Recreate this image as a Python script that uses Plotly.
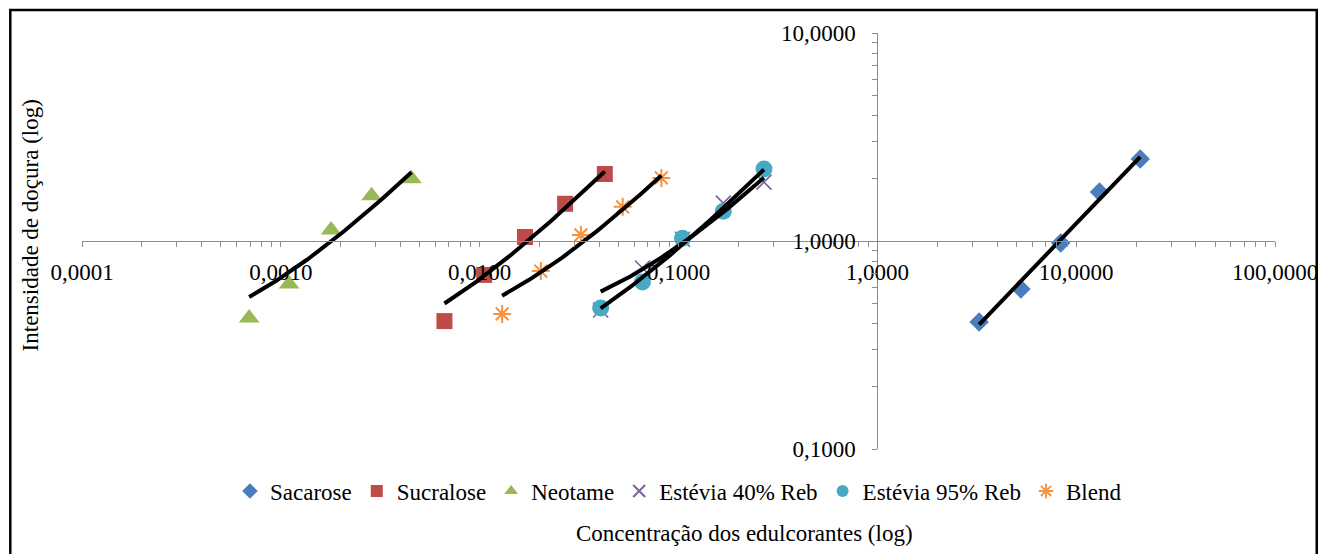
import numpy as np
import plotly.graph_objects as go

# ---- data ----
sacarose_x = [3.25, 5.27, 8.36, 13.1, 21.0]
sacarose_y = [0.408, 0.588, 0.978, 1.72, 2.48]

sucralose_x = [0.00665, 0.01054, 0.0169, 0.0269, 0.0426]
sucralose_y = [0.412, 0.687, 1.045, 1.51, 2.10]

neotame_x = [0.000693, 0.0011, 0.00179, 0.00286, 0.00454]
neotame_y = [0.426, 0.621, 1.13, 1.65, 1.99]

estevia_x = [0.0406, 0.0659, 0.1047, 0.168, 0.269]
estevia40_y = [0.466, 0.742, 1.02, 1.52, 1.92]
estevia95_y = [0.476, 0.635, 1.03, 1.39, 2.22]

blend_x = [0.01297, 0.0203, 0.0323, 0.0524, 0.082]
blend_y = [0.446, 0.717, 1.07, 1.46, 2.01]

x_tick_vals = [0.0001, 0.001, 0.01, 0.1, 1, 10, 100]
x_tick_text = ["0,0001", "0,0010", "0,0100", "0,1000", "1,0000", "10,0000", "100,0000"]
y_tick_vals = [0.1, 1, 10]
y_tick_text = ["0,1000", "1,0000", "10,0000"]

x_title = "Concentração dos edulcorantes (log)"
y_title = "Intensidade de doçura (log)"

FONT = "Liberation Serif, Times New Roman, serif"
GRID = "#8c8c8c"

def minor_vals(lo_exp, hi_exp):
    vals = []
    for e in range(lo_exp, hi_exp):
        for m in range(1, 10):
            vals.append(m * 10 ** e)
    vals.append(10 ** hi_exp)
    return vals

x_minor = minor_vals(-4, 2)
y_minor = minor_vals(-1, 1)

series = [
    ("Sacarose", sacarose_x, sacarose_y, dict(symbol="diamond", size=15, color="#4A7EBB")),
    ("Sucralose", sucralose_x, sucralose_y, dict(symbol="square", size=16, color="#BE4B48")),
    ("Neotame", neotame_x, neotame_y, dict(symbol="triangle-up", size=18, color="#98B954")),
    ("Estévia 40% Reb", estevia_x, estevia40_y,
     dict(symbol="x-thin-open", size=15, color="#7D60A0", line=dict(color="#7D60A0", width=1.6))),
    ("Estévia 95% Reb", estevia_x, estevia95_y, dict(symbol="circle", size=17, color="#46AAC5")),
    ("Blend", blend_x, blend_y,
     dict(symbol="asterisk-open", size=15, color="#F69240", line=dict(color="#F69240", width=2))),
]

fig = go.Figure()
for name, xs, ys, mk in series:
    fig.add_trace(go.Scatter(x=xs, y=ys, mode="markers", name=name, marker=mk))

# linear trendlines (least squares y = a + b x), drawn on log axes
for name, xs, ys, mk in series:
    b, a = np.polyfit(np.array(xs), np.array(ys), 1)
    xx = np.logspace(np.log10(min(xs)), np.log10(max(xs)), 60)
    fig.add_trace(go.Scatter(x=xx, y=a + b * xx, mode="lines", showlegend=False,
                             line=dict(color="black", width=4), hoverinfo="skip"))

fig.update_layout(
    width=1330, height=554,
    margin=dict(l=82, r=50, t=33, b=105),
    paper_bgcolor="white", plot_bgcolor="white",
    font=dict(family=FONT, size=23, color="black"),
    showlegend=True,
    legend=dict(orientation="h", x=0.5, xanchor="center", y=-0.101, yanchor="middle",
                itemsizing="constant",
                font=dict(family=FONT, size=23, color="black"), bgcolor="rgba(0,0,0,0)"),
    xaxis=dict(type="log", range=[-4, 2], domain=[0, 1], anchor="free", position=0.5,
               tickmode="array", tickvals=x_tick_vals, ticktext=x_tick_text,
               ticks="outside", ticklen=5, tickcolor=GRID, tickwidth=1,
               minor=dict(tickmode="array", tickvals=x_minor, ticks="outside", ticklen=5,
                          tickcolor=GRID, showgrid=False),
               showline=True, linecolor=GRID, linewidth=1, showgrid=False, zeroline=False,
               tickfont=dict(family=FONT, size=23, color="black"), ticklabelstandoff=5),
    xaxis2=dict(type="log", range=[-4, 2], domain=[0, 1], overlaying="x", anchor="free", position=0.5,
                tickmode="array", tickvals=x_minor, ticks="inside", ticklen=5, tickcolor=GRID,
                showticklabels=False, showline=False, showgrid=False, zeroline=False),
    yaxis=dict(type="log", range=[-1, 1], domain=[0, 1], anchor="free", position=4 / 6,
               tickmode="array", tickvals=y_tick_vals, ticktext=y_tick_text,
               ticks="outside", ticklen=5, tickcolor=GRID, tickwidth=1,
               minor=dict(tickmode="array", tickvals=y_minor, ticks="outside", ticklen=5,
                          tickcolor=GRID, showgrid=False),
               showline=True, linecolor=GRID, linewidth=1,
               showgrid=True, gridcolor=GRID, gridwidth=1, zeroline=False,
               tickfont=dict(family=FONT, size=23, color="black"), ticklabelstandoff=12),
    yaxis2=dict(type="log", range=[-1, 1], domain=[0, 1], overlaying="y", anchor="free", position=4 / 6,
                tickmode="array", tickvals=y_minor, ticks="inside", ticklen=5, tickcolor=GRID,
                showticklabels=False, showline=False, showgrid=False, zeroline=False),
    annotations=[
        dict(text=x_title, xref="paper", yref="paper", x=0.555, y=-0.202,
             xanchor="center", yanchor="middle", showarrow=False,
             font=dict(family=FONT, size=23, color="black")),
        dict(text=y_title, xref="paper", yref="paper", x=-0.0434, y=0.538, textangle=-90,
             xanchor="center", yanchor="middle", showarrow=False,
             font=dict(family=FONT, size=23, color="black")),
    ],
    shapes=[
        dict(type="rect", xref="paper", yref="paper",
             x0=-0.0601, x1=1.035, y0=-0.28, y1=1.0553,
             line=dict(color="black", width=2.5), fillcolor="rgba(0,0,0,0)", layer="above"),
    ],
)

fig.write_html("out.html")
